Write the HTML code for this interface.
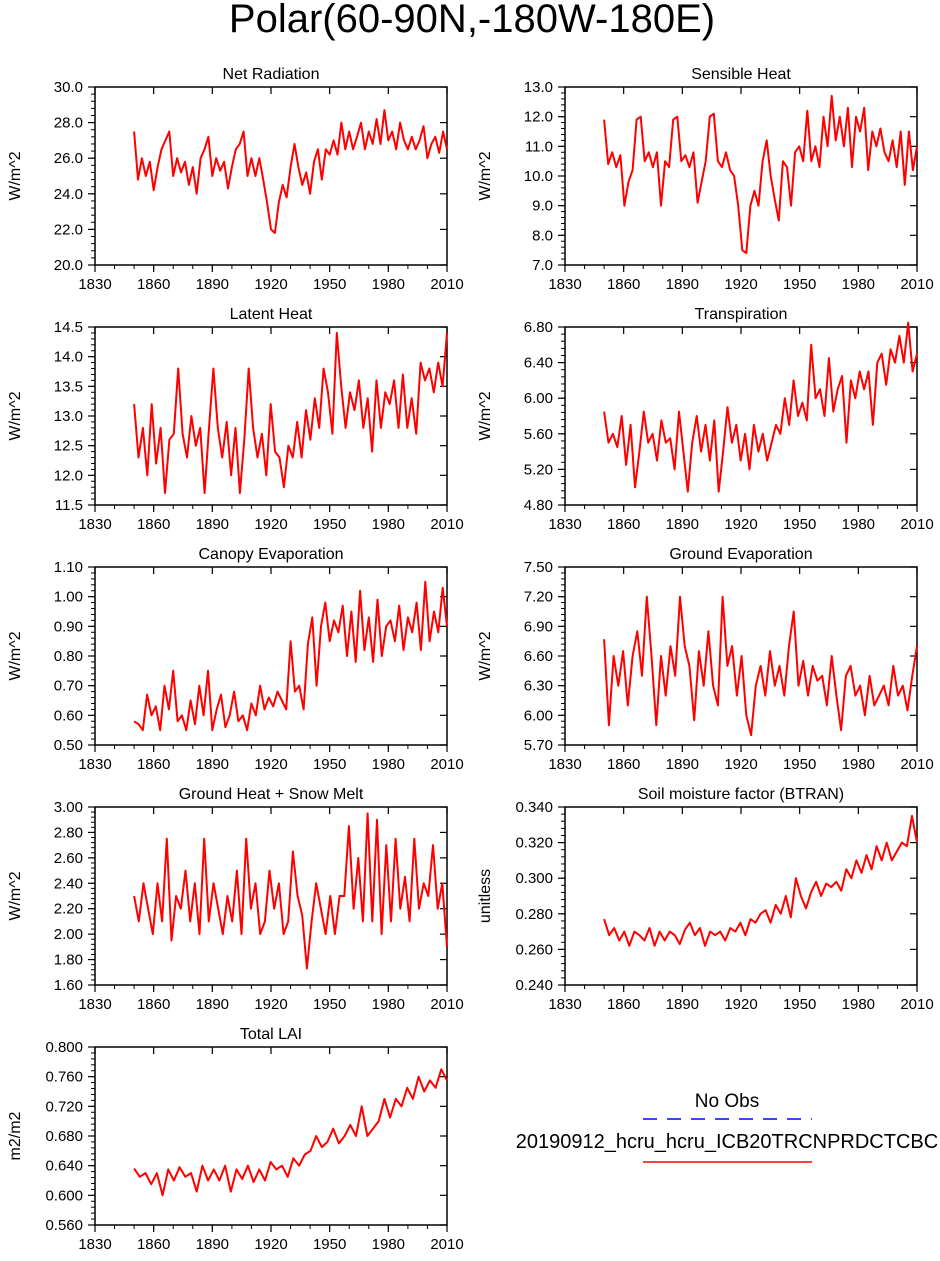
<!DOCTYPE html>
<html><head><meta charset="utf-8"><style>
body{margin:0;background:#fff;}
svg{display:block;font-family:"Liberation Sans",sans-serif;}
</style></head><body>
<svg id="chart" width="940" height="1261" xmlns="http://www.w3.org/2000/svg">
<text x="472" y="32" font-size="40" text-anchor="middle">Polar(60-90N,-180W-180E)</text>
<g>
<text x="727" y="1107" font-size="19" text-anchor="middle">No Obs</text>
<line x1="643" y1="1119" x2="812" y2="1119" stroke="#0000ff" stroke-width="1.5" stroke-dasharray="14,10"/>
<text x="727" y="1148" font-size="20" text-anchor="middle">20190912_hcru_hcru_ICB20TRCNPRDCTCBC</text>
<line x1="643" y1="1162" x2="812" y2="1162" stroke="#ff0000" stroke-width="1.5"/>
</g>
</svg>
<script>
const xTicks=[1830,1860,1890,1920,1950,1980,2010];
const netRad=[27.5,24.8,26,25,25.8,24.2,25.5,26.5,27,27.5,25,26,25.2,25.8,24.5,25.5,24,26,26.5,27.2,25,26,25.3,25.8,24.3,25.5,26.5,26.8,27.5,25,26,25,26,24.8,23.5,22,21.8,23.5,24.5,23.8,25.5,26.8,25.5,24.5,25.2,24,25.8,26.5,24.8,26.5,26.2,27,26.2,28,26.5,27.5,26.5,27.2,28,26.5,27.5,26.8,28.2,26.8,28.7,27,27.5,26.5,28,27,26.5,27.2,26.5,27,27.8,26,26.8,27.2,26.3,27.5,26.5];
const sensible=[11.9,10.4,10.8,10.3,10.7,9.0,9.8,10.2,11.9,12.0,10.5,10.8,10.3,10.8,9.0,10.5,10.3,11.9,12.0,10.5,10.7,10.3,10.8,9.1,9.8,10.5,12.0,12.1,10.5,10.3,10.8,10.2,10.0,9.0,7.5,7.4,9.0,9.5,9.0,10.5,11.2,10.0,9.2,8.5,10.5,10.3,9.0,10.8,11.0,10.5,12.2,10.5,11.0,10.3,12.0,11.0,12.7,11.2,12.0,11.0,12.3,10.3,12.0,11.5,12.3,10.2,11.5,11.0,11.6,10.8,10.5,11.2,10.3,11.5,9.7,11.5,10.2,11.0];
const latent=[13.2,12.3,12.8,12.0,13.2,12.2,12.8,11.7,12.6,12.7,13.8,12.7,12.3,13.0,12.5,12.8,11.7,12.8,13.8,12.8,12.3,12.9,12.0,12.8,11.7,12.6,13.8,12.8,12.3,12.7,12.0,13.2,12.4,12.3,11.8,12.5,12.3,12.9,12.3,13.1,12.6,13.3,12.8,13.8,13.4,12.7,14.4,13.5,12.8,13.4,13.1,13.6,12.8,13.3,12.4,13.6,12.8,13.4,13.2,13.6,12.8,13.7,12.8,13.3,12.7,13.9,13.6,13.8,13.4,13.9,13.5,14.4];
const transp=[5.85,5.5,5.6,5.45,5.8,5.25,5.7,5.0,5.4,5.85,5.5,5.6,5.3,5.75,5.5,5.55,5.2,5.85,5.4,4.95,5.5,5.8,5.4,5.7,5.3,5.75,4.95,5.4,5.9,5.5,5.7,5.3,5.6,5.2,5.7,5.4,5.6,5.3,5.5,5.7,5.6,6.0,5.7,6.2,5.8,5.95,5.75,6.6,6.0,6.1,5.8,6.45,5.85,6.1,6.25,5.5,6.2,6.0,6.3,6.1,6.3,5.7,6.4,6.5,6.15,6.55,6.4,6.7,6.4,6.85,6.3,6.5];
const canopy=[0.58,0.57,0.55,0.67,0.6,0.63,0.55,0.7,0.62,0.75,0.58,0.6,0.55,0.65,0.57,0.7,0.6,0.75,0.55,0.62,0.67,0.56,0.6,0.68,0.58,0.6,0.55,0.64,0.6,0.7,0.62,0.66,0.63,0.68,0.65,0.62,0.85,0.68,0.7,0.62,0.84,0.93,0.7,0.9,0.98,0.85,0.92,0.88,0.97,0.8,0.95,0.78,1.02,0.82,0.93,0.78,0.99,0.8,0.9,0.92,0.85,0.97,0.82,0.93,0.88,0.98,0.82,1.05,0.85,0.95,0.88,1.03,0.9];
const groundEvap=[6.77,5.9,6.6,6.3,6.65,6.1,6.6,6.85,6.4,7.2,6.6,5.9,6.6,6.2,6.7,6.4,7.2,6.7,6.5,5.95,6.65,6.3,6.85,6.3,6.1,7.2,6.5,6.7,6.2,6.6,6.0,5.8,6.3,6.5,6.2,6.65,6.3,6.5,6.2,6.7,7.05,6.3,6.55,6.2,6.5,6.35,6.4,6.1,6.6,6.2,5.85,6.4,6.5,6.2,6.3,6.0,6.4,6.1,6.2,6.3,6.1,6.5,6.2,6.3,6.05,6.4,6.7];
const groundHeat=[2.3,2.1,2.4,2.2,2.0,2.4,2.1,2.75,1.95,2.3,2.2,2.5,2.1,2.4,2.0,2.75,2.1,2.4,2.2,2.0,2.3,2.1,2.5,2.0,2.75,2.2,2.4,2.0,2.1,2.5,2.2,2.4,2.0,2.1,2.65,2.3,2.15,1.73,2.1,2.4,2.2,2.0,2.3,2.0,2.3,2.3,2.85,2.2,2.6,2.1,2.95,2.1,2.9,2.0,2.7,2.1,2.75,2.2,2.45,2.1,2.75,2.2,2.4,2.3,2.7,2.2,2.4,1.9];
const btran=[0.277,0.268,0.272,0.265,0.27,0.262,0.27,0.268,0.265,0.272,0.262,0.27,0.265,0.27,0.268,0.263,0.271,0.275,0.268,0.272,0.262,0.27,0.268,0.27,0.265,0.272,0.27,0.275,0.268,0.277,0.275,0.28,0.282,0.275,0.285,0.28,0.29,0.278,0.3,0.29,0.283,0.292,0.298,0.29,0.297,0.295,0.298,0.293,0.305,0.3,0.31,0.303,0.313,0.305,0.318,0.31,0.32,0.31,0.315,0.32,0.318,0.335,0.32];
const lai=[0.636,0.625,0.63,0.615,0.63,0.6,0.635,0.62,0.638,0.625,0.63,0.605,0.64,0.62,0.635,0.62,0.64,0.605,0.635,0.622,0.64,0.618,0.635,0.62,0.645,0.635,0.64,0.625,0.65,0.64,0.655,0.66,0.68,0.665,0.672,0.69,0.67,0.68,0.695,0.68,0.72,0.68,0.69,0.7,0.73,0.705,0.73,0.72,0.745,0.73,0.76,0.74,0.755,0.745,0.77,0.755];
const panels=[
 {name:'net-radiation',title:'Net Radiation',ylab:'W/m^2',data:netRad,min:20,max:30,step:2,dec:1,col:0,row:0},
 {name:'sensible-heat',title:'Sensible Heat',ylab:'W/m^2',data:sensible,min:7,max:13,step:1,dec:1,col:1,row:0},
 {name:'latent-heat',title:'Latent Heat',ylab:'W/m^2',data:latent,min:11.5,max:14.5,step:0.5,dec:1,col:0,row:1},
 {name:'transpiration',title:'Transpiration',ylab:'W/m^2',data:transp,min:4.8,max:6.8,step:0.4,dec:2,col:1,row:1},
 {name:'canopy-evaporation',title:'Canopy Evaporation',ylab:'W/m^2',data:canopy,min:0.5,max:1.1,step:0.1,dec:2,col:0,row:2},
 {name:'ground-evaporation',title:'Ground Evaporation',ylab:'W/m^2',data:groundEvap,min:5.7,max:7.5,step:0.3,dec:2,col:1,row:2},
 {name:'ground-heat-snow-melt',title:'Ground Heat + Snow Melt',ylab:'W/m^2',data:groundHeat,min:1.6,max:3.0,step:0.2,dec:2,col:0,row:3},
 {name:'soil-moisture-factor',title:'Soil moisture factor (BTRAN)',ylab:'unitless',data:btran,min:0.24,max:0.34,step:0.02,dec:3,col:1,row:3},
 {name:'total-lai',title:'Total LAI',ylab:'m2/m2',data:lai,min:0.56,max:0.80,step:0.04,dec:3,col:0,row:4}
];
const svg=document.getElementById('chart');
const NS='http://www.w3.org/2000/svg';
function mk(tag,attrs,parent){const e=document.createElementNS(NS,tag);for(const k in attrs)e.setAttribute(k,attrs[k]);parent.appendChild(e);return e;}
const colX=[95,565],rowY=[87,327,567,807,1047],W=352,H=178;
panels.forEach(p=>{
 const x0=colX[p.col],y0=rowY[p.row];
 const g=mk('g',{},svg);
 
 
 const xs=v=>x0+(v-1830)/180*W;
 const ys=v=>y0+H-(v-p.min)/(p.max-p.min)*H;
 const t=mk('text',{x:x0+W/2,y:y0-8,'font-size':16,'text-anchor':'middle'},g);
 t.textContent=p.title;
 
 
 const yl=mk('text',{x:0,y:0,'font-size':16,'text-anchor':'middle',transform:`translate(${x0-75},${y0+H/2}) rotate(-90)`},g);
 yl.textContent=p.ylab;
 
 
 xTicks.forEach(v=>{
  mk('line',{x1:xs(v),y1:y0+H,x2:xs(v),y2:y0+H+7,stroke:'#000','stroke-width':1.2},g);
  mk('line',{x1:xs(v),y1:y0,x2:xs(v),y2:y0+7,stroke:'#000','stroke-width':1.2},g);
  const tl=mk('text',{x:xs(v),y:y0+H+24,'font-size':15,'text-anchor':'middle'},g);
  tl.textContent=v;
  
  
 });
 for(let v=1830;v<=2010;v+=10){
  mk('line',{x1:xs(v),y1:y0+H,x2:xs(v),y2:y0+H+4,stroke:'#000','stroke-width':1},g);
 }
 const n=Math.round((p.max-p.min)/p.step);
 for(let i=0;i<=n;i++){
  const v=p.min+i*p.step;
  mk('line',{x1:x0-7,y1:ys(v),x2:x0,y2:ys(v),stroke:'#000','stroke-width':1.2},g);
  mk('line',{x1:x0+W,y1:ys(v),x2:x0+W-7,y2:ys(v),stroke:'#000','stroke-width':1.2},g);
  const tl=mk('text',{x:x0-12,y:ys(v)+5,'font-size':15,'text-anchor':'end'},g);
  tl.textContent=v.toFixed(p.dec);
  
  
 }
 for(let i=0;i<=n*5;i++){
  const v=p.min+i*p.step/5;
  mk('line',{x1:x0-4,y1:ys(v),x2:x0,y2:ys(v),stroke:'#000','stroke-width':1},g);
 }
 mk('rect',{x:x0,y:y0,width:W,height:H,fill:'none',stroke:'#000','stroke-width':1.5},g);
 const dx=160/(p.data.length-1);
 const pts=p.data.map((v,i)=>xs(1850+i*dx).toFixed(1)+','+ys(v).toFixed(1)).join(' ');
 const line=mk('polyline',{points:pts,fill:'none',stroke:'#ff0000','stroke-width':2,'stroke-linejoin':'round'},g);
 
 
});
</script>
</body></html>
